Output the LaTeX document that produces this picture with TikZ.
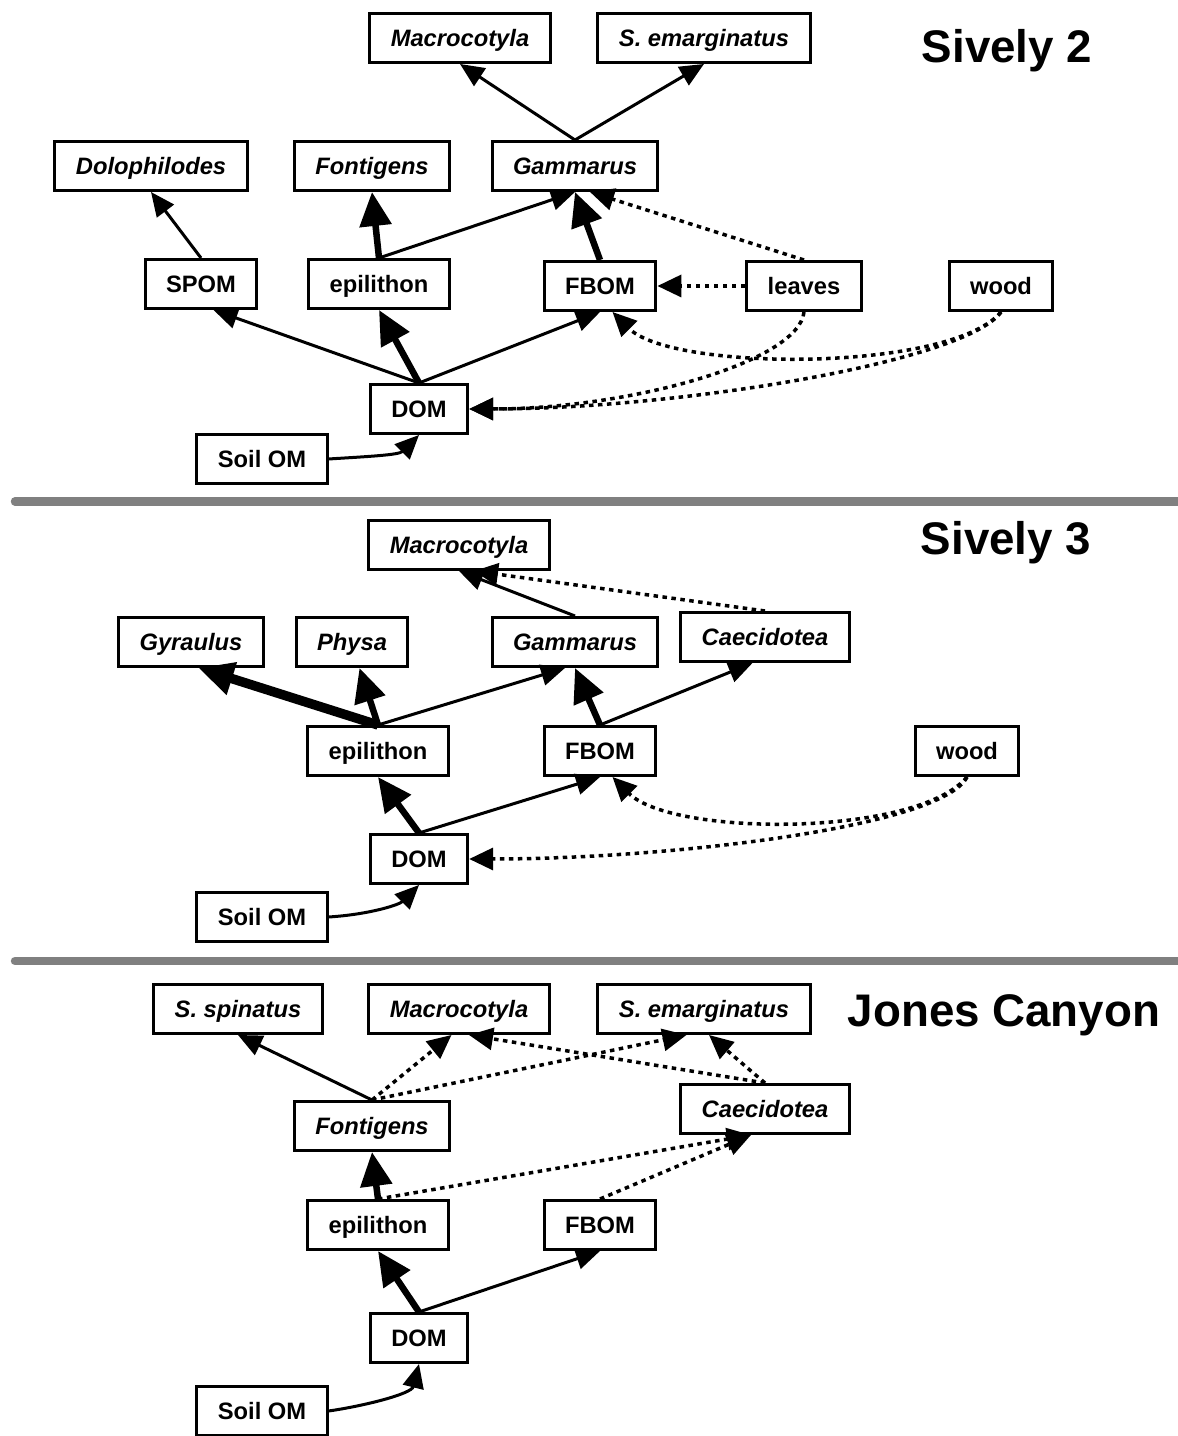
\documentclass[tikz,border=0pt]{standalone}
\usepackage{fontspec}
\setmainfont{Liberation Sans}
\usetikzlibrary{arrows.meta}

\begin{document}
\begin{tikzpicture}[
  box/.style={draw, line width=0.06cm, font=\fontsize{13.5pt}{15pt}\selectfont\bfseries,
    minimum height=0.98cm, inner xsep=0.42cm, text height=0.33cm, text depth=0cm},
  taxon/.style={box, font=\fontsize{13.5pt}{15pt}\selectfont\bfseries\itshape},
  site/.style={font=\fontsize{26pt}{30pt}\selectfont\bfseries, anchor=base},
  link/.style={line width=0.06cm, -{Triangle[length=0.48cm, width=0.42cm]}},
  mainlink/.style={line width=0.13cm, -{Triangle[length=0.68cm, width=0.62cm]}},
  hugelink/.style={line width=0.19cm, -{Triangle[length=0.7cm, width=0.64cm]}},
  weaklink/.style={line width=0.07cm, dash pattern=on 0.09cm off 0.09cm,
    -{Triangle[length=0.48cm, width=0.44cm]}},
  rule/.style={line width=0.17cm, gray, line cap=round}]
\useasboundingbox (0,0) rectangle (23.54,28.72);

% Sively 2
\node[taxon] (mac1) at (9.20,27.96) {Macrocotyla};
\node[taxon] (sem1) at (14.08,27.96) {S. emarginatus};
\node[taxon] (dol) at (3.02,25.40) {Dolophilodes};
\node[taxon] (fon1) at (7.44,25.40) {Fontigens};
\node[taxon] (gam1) at (11.50,25.40) {Gammarus};
\node[box] (spom) at (4.02,23.04) {SPOM};
\node[box] (epi1) at (7.58,23.04) {epilithon};
\node[box] (fbom1) at (12.00,23.00) {FBOM};
\node[box] (leaves) at (16.08,23.00) {leaves};
\node[box] (wood1) at (20.02,23.00) {wood};
\node[box] (dom1) at (8.38,20.54) {DOM};
\node[box] (soil1) at (5.24,19.54) {Soil OM};
\node[site] (site1) at (20.14,27.46) {Sively 2};
\draw[link] (gam1.north) -- (mac1.south);
\draw[link] (gam1.north) -- (sem1.south);
\draw[link] (spom.north) -- (dol.south);
\draw[mainlink] (epi1.north) -- (fon1.south);
\draw[link] (epi1.north) -- (gam1.south);
\draw[mainlink] (fbom1.north) -- (gam1.south);
\draw[weaklink] (leaves.north) -- ([xshift=0.3cm]gam1.south);
\draw[weaklink] (leaves.west) -- (fbom1.east);
\draw[link] (dom1.north) -- ([xshift=0.25cm]spom.south);
\draw[mainlink] (dom1.north) -- (epi1.south);
\draw[link] (dom1.north) -- (fbom1.south);
\draw[weaklink] (leaves.south) .. controls +(-0.1,-1) and +(3.2,0) .. (dom1.east);
\draw[weaklink] (wood1.south) .. controls +(-0.7,-1) and +(4.16,0) .. (dom1.east);
\draw[weaklink] (wood1.south) .. controls +(-1,-1.2) and +(1.2,-1.2) .. ([xshift=0.25cm]fbom1.south);
\draw[link] (soil1.east) .. controls +(0.8,0.05) and +(-0.4,-0.4) .. (dom1.south);

\draw[rule] (0.3,18.69) -- (23.7,18.69);

% Sively 3
\node[taxon] (mac2) at (9.18,17.82) {Macrocotyla};
\node[taxon] (gyr) at (3.82,15.88) {Gyraulus};
\node[taxon] (phy) at (7.04,15.88) {Physa};
\node[taxon] (gam2) at (11.50,15.88) {Gammarus};
\node[taxon] (cae2) at (15.30,15.98) {Caecidotea};
\node[box] (epi2) at (7.56,13.70) {epilithon};
\node[box] (fbom2) at (12.00,13.70) {FBOM};
\node[box] (wood2) at (19.34,13.70) {wood};
\node[box] (dom2) at (8.38,11.54) {DOM};
\node[box] (soil2) at (5.24,10.38) {Soil OM};
\node[site] (site2) at (20.12,17.62) {Sively 3};
\draw[link] (gam2.north) -- (mac2.south);
\draw[weaklink] (cae2.north) -- ([xshift=0.3cm]mac2.south);
\draw[hugelink] (epi2.north) -- ([xshift=0.15cm]gyr.south);
\draw[mainlink] (epi2.north) -- ([xshift=0.15cm]phy.south);
\draw[link] (epi2.north) -- ([xshift=-0.2cm]gam2.south);
\draw[mainlink] (fbom2.north) -- (gam2.south);
\draw[link] (fbom2.north) -- ([xshift=-0.25cm]cae2.south);
\draw[mainlink] (dom2.north) -- (epi2.south);
\draw[link] (dom2.north) -- (fbom2.south);
\draw[weaklink] (wood2.south) .. controls +(-0.5,-1) and +(4,0) .. (dom2.east);
\draw[weaklink] (wood2.south) .. controls +(-1,-1.2) and +(1.2,-1.2) .. ([xshift=0.25cm]fbom2.south);
\draw[link] (soil2.east) .. controls +(0.8,0.05) and +(-0.4,-0.4) .. (dom2.south);

\draw[rule] (0.3,9.50) -- (23.7,9.50);

% Jones Canyon
\node[taxon] (ssp) at (4.76,8.54) {S. spinatus};
\node[taxon] (mac3) at (9.18,8.54) {Macrocotyla};
\node[taxon] (sem3) at (14.08,8.54) {S. emarginatus};
\node[taxon] (fon3) at (7.44,6.20) {Fontigens};
\node[taxon] (cae3) at (15.30,6.54) {Caecidotea};
\node[box] (epi3) at (7.56,4.22) {epilithon};
\node[box] (fbom3) at (12.00,4.22) {FBOM};
\node[box] (dom3) at (8.38,1.96) {DOM};
\node[box] (soil3) at (5.24,0.50) {Soil OM};
\node[site] (site3) at (20.08,8.18) {Jones Canyon};
\draw[link] (fon3.north) -- (ssp.south);
\draw[weaklink] (fon3.north) -- ([xshift=-0.15cm]mac3.south);
\draw[weaklink] (fon3.north) -- ([xshift=-0.35cm]sem3.south);
\draw[weaklink] (cae3.north) -- ([xshift=0.2cm]mac3.south);
\draw[weaklink] (cae3.north) -- ([xshift=0.1cm]sem3.south);
\draw[mainlink] (epi3.north) -- (fon3.south);
\draw[weaklink] (epi3.north) -- ([xshift=-0.28cm]cae3.south);
\draw[weaklink] (fbom3.north) -- ([xshift=-0.28cm]cae3.south);
\draw[mainlink] (dom3.north) -- (epi3.south);
\draw[link] (dom3.north) -- (fbom3.south);
\draw[link] (soil3.east) .. controls +(0.7,0.1) and +(-0.15,-0.6) .. (dom3.south);
\end{tikzpicture}
\end{document}
